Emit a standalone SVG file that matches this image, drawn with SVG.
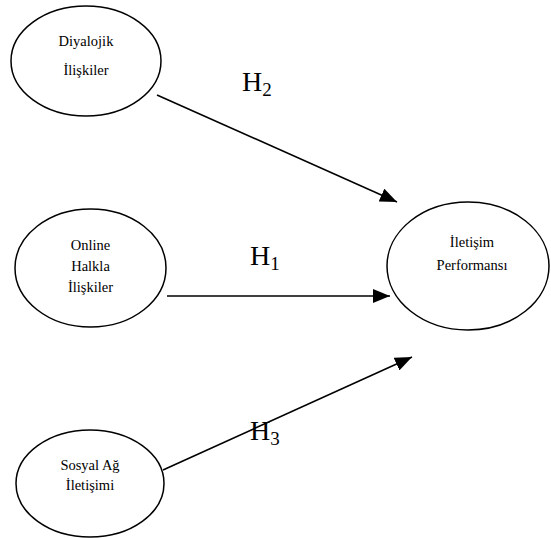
<svg xmlns="http://www.w3.org/2000/svg" width="551" height="538" viewBox="0 0 551 538">
<style>
.node ellipse{fill:#fff;stroke:#000;stroke-width:1.5}
.node text{font-family:"Liberation Serif","Times New Roman",serif;font-size:14.5px;fill:#000;text-anchor:middle}
.edge line{stroke:#000;stroke-width:1.6;fill:none}
.lbl{font-family:"Liberation Serif","Times New Roman",serif;font-size:28px;fill:#000}
.sub{font-size:19px}
</style>
<defs>
<marker id="ah" markerUnits="userSpaceOnUse" markerWidth="18" markerHeight="14" refX="17" refY="7" orient="auto">
<path d="M0,0 L17,7 L0,14 Z" fill="#000"/>
</marker>
</defs>
<rect width="551" height="538" fill="#fff"/>
<g id="n_diyalojik" class="node">
<ellipse cx="86" cy="61" rx="75" ry="55"/>
<text x="86" y="46">Diyalojik</text>
<text x="86" y="75">İlişkiler</text>
</g>
<g id="n_online" class="node">
<ellipse cx="90.5" cy="268" rx="75.5" ry="59"/>
<text x="90.5" y="250">Online</text>
<text x="90.5" y="271">Halkla</text>
<text x="90.5" y="292">İlişkiler</text>
</g>
<g id="n_sosyal" class="node">
<ellipse cx="90" cy="483.5" rx="74" ry="53.5"/>
<text x="90" y="470">Sosyal Ağ</text>
<text x="90" y="490">İletişimi</text>
</g>
<g id="n_performans" class="node">
<ellipse cx="468" cy="266" rx="81" ry="64"/>
<text x="472" y="247">İletişim</text>
<text x="472" y="270">Performansı</text>
</g>
<g id="connectors" class="edge">
<line x1="157" y1="95" x2="397" y2="202" marker-end="url(#ah)"/>
<line x1="167" y1="296" x2="390" y2="296" marker-end="url(#ah)"/>
<line x1="163" y1="470" x2="412" y2="357" marker-end="url(#ah)"/>
</g>
<g id="labels">
<text class="lbl" x="242" y="91">H<tspan class="sub" dy="5">2</tspan></text>
<text class="lbl" x="250" y="265">H<tspan class="sub" dy="5">1</tspan></text>
<text class="lbl" x="250" y="440">H<tspan class="sub" dy="5">3</tspan></text>
</g>
</svg>
